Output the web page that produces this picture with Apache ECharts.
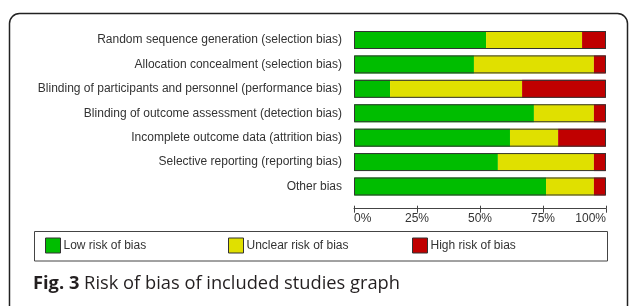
<!DOCTYPE html>
<html>
<head>
<meta charset="utf-8">
<script src="https://cdn.jsdelivr.net/npm/echarts@6/dist/echarts.min.js"></script>
<style>
html,body{margin:0;padding:0;background:#fff;}
#chart{width:629px;height:306px;}
</style>
</head>
<body>
<div id="chart"></div>
<script>
var categories = [
  'Random sequence generation (selection bias)',
  'Allocation concealment (selection bias)',
  'Blinding of participants and personnel (performance bias)',
  'Blinding of outcome assessment (detection bias)',
  'Incomplete outcome data (attrition bias)',
  'Selective reporting (reporting bias)',
  'Other bias'
];
var lowRisk     = [52.4, 47.6, 14.3, 71.4, 61.9, 57.1, 76.2];
var unclearRisk = [38.1, 47.6, 52.4, 23.8, 19.1, 38.1, 19.0];
var highRisk    = [ 9.5,  4.8, 33.3,  4.8, 19.0,  4.8,  4.8];
var tickValues  = [0, 25, 50, 75, 100];
var seriesNames = ['Low risk of bias', 'Unclear risk of bias', 'High risk of bias'];
var captionBold = 'Fig. 3';
var captionText = 'Risk of bias of included studies graph';

var colors = ['#00bd00', '#e0e000', '#c00000'];
var totals = lowRisk.map(function (v, i) { return v + unclearRisk[i] + highRisk[i]; });

var chart = echarts.init(document.getElementById('chart'), null, {renderer: 'canvas'});
var FONT = '"Liberation Sans", Arial, sans-serif';

function stackSeries(name, data, color) {
  return {
    name: name, type: 'bar', stack: 'rob', data: data,
    barWidth: 18, itemStyle: {color: color}, xAxisIndex: 0, yAxisIndex: 0
  };
}

var option = {
  animation: false,
  backgroundColor: '#ffffff',
  grid: {left: 354, right: 23, top: 27.8, bottom: 107.3, containLabel: false},
  xAxis: [{
    type: 'value', min: 0, max: 100, interval: 25, offset: 10,
    axisLine: {show: true, lineStyle: {color: '#444', width: 1}},
    axisTick: {show: true, inside: false, length: 4, lineStyle: {color: '#444', width: 1}},
    splitLine: {show: false},
    axisLabel: {
      show: true, margin: 4, fontSize: 12, fontFamily: FONT, color: '#333',
      alignMinLabel: 'left', alignMaxLabel: 'right',
      formatter: function (v) { return tickValues.indexOf(v) >= 0 ? v + '%' : ''; }
    }
  }, {
    type: 'value', min: 0, max: 100, interval: 25, offset: 10, position: 'bottom',
    axisLine: {show: false},
    axisTick: {show: true, inside: true, length: 3, lineStyle: {color: '#444', width: 1}},
    splitLine: {show: false},
    axisLabel: {show: false}
  }],
  yAxis: {
    type: 'category', data: categories, inverse: true,
    axisLine: {show: false}, axisTick: {show: false}, splitLine: {show: false},
    axisLabel: {margin: 12, fontSize: 12, fontFamily: FONT, color: '#333'}
  },
  legend: [0, 1, 2].map(function (i) {
    return {
      data: [seriesNames[i]],
      left: [45, 228, 412][i], top: 237.5,
      padding: 0, itemWidth: 15, itemHeight: 15, icon: 'rect',
      itemStyle: {borderColor: '#333', borderWidth: 1},
      textStyle: {fontSize: 12, fontFamily: FONT, color: '#333', padding: [0, 0, 0, -2]},
      selectedMode: false
    };
  }),
  series: [
    stackSeries(seriesNames[0], lowRisk, colors[0]),
    stackSeries(seriesNames[1], unclearRisk, colors[1]),
    stackSeries(seriesNames[2], highRisk, colors[2]),
    {
      name: 'outline', type: 'bar', data: totals, barWidth: 18, barGap: '-100%',
      itemStyle: {color: 'rgba(0,0,0,0)', borderColor: '#333', borderWidth: 1},
      silent: true, z: 5
    }
  ],
  graphic: [
    {
      type: 'rect', silent: true,
      shape: {x: 9.5, y: 13.5, width: 618, height: 310, r: 10},
      style: {fill: 'none', stroke: '#222', lineWidth: 1.5}
    },
    {
      type: 'rect', silent: true,
      shape: {x: 34.5, y: 231.5, width: 573, height: 29.5},
      style: {fill: 'none', stroke: '#444', lineWidth: 1}
    },
    {
      type: 'text', silent: true, left: 33, top: 274.5,
      style: {
        text: '{b|' + captionBold + '} ' + captionText,
        fontSize: 18.3, fontFamily: '"Open Sans", sans-serif', fill: '#231f20',
        rich: {b: {fontSize: 18.3, fontWeight: 'bold', fontFamily: '"Open Sans", sans-serif', fill: '#231f20'}}
      }
    }
  ]
};
chart.setOption(option);
</script>
</body>
</html>
